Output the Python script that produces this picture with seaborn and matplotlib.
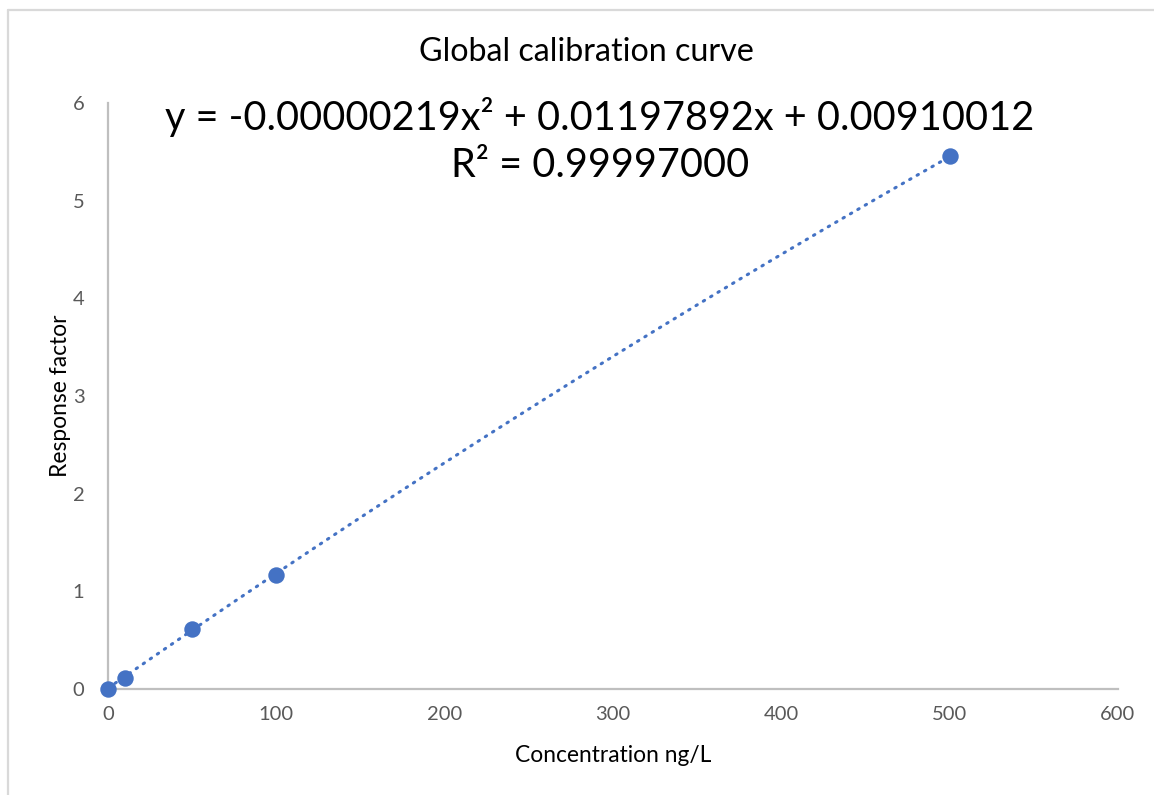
import numpy as np
import pandas as pd
import matplotlib
matplotlib.use("Agg")
import matplotlib.pyplot as plt
from matplotlib.lines import Line2D
import seaborn as sns

# Calibration standards
concentration = [0, 10, 50, 100, 500]
response = [0.0, 0.11, 0.61, 1.17, 5.46]

# Quadratic fit coefficients (a*x^2 + b*x + c) and goodness of fit
fit_coeffs = [-0.00000219, 0.01197892, 0.00910012]
r_squared = 0.99997000

x_ticks = [0, 100, 200, 300, 400, 500, 600]
y_ticks = [0, 1, 2, 3, 4, 5, 6]

BLUE = "#4472C4"
TICK_GREY = "#595959"
SPINE_GREY = "#BFBFBF"

sns.set_theme(style="white")
plt.rcParams["font.family"] = ["Lato", "DejaVu Sans"]

fig = plt.figure(figsize=(11.54, 7.95), dpi=100)
ax = fig.add_axes([0.0936, 0.1333, 0.9688 - 0.0936, 0.8704 - 0.1333])

df = pd.DataFrame({"conc": concentration, "resp": response})

# Trendline from the fitted polynomial over the standards' range
xs = np.linspace(min(concentration), max(concentration), 300)
ys = np.polyval(fit_coeffs, xs)
ax.plot(xs, ys, color=BLUE, lw=2.2, linestyle=(0, (0.5, 2.3)),
        dash_capstyle="round", zorder=2)

sns.scatterplot(data=df, x="conc", y="resp", ax=ax, color=BLUE, s=140,
                edgecolor=BLUE, linewidth=0, zorder=3, clip_on=False)

ax.set_xlim(0, 600)
ax.set_ylim(0, 6)
ax.set_xticks(x_ticks)
ax.set_yticks(y_ticks)
ax.tick_params(axis="both", length=0, labelsize=14.5, colors=TICK_GREY, pad=12)
ax.tick_params(axis="y", pad=17)

for side in ["top", "right"]:
    ax.spines[side].set_visible(False)
for side in ["left", "bottom"]:
    ax.spines[side].set_color(SPINE_GREY)
    ax.spines[side].set_linewidth(1.6)

ax.set_xlabel("Concentration ng/L", fontsize=16.4, color="black", labelpad=16)
ax.set_ylabel("Response factor", fontsize=16.4, color="black", labelpad=1)

fig.text(0.508, 0.934, "Global calibration curve", ha="center", va="center",
         fontsize=23.2, color="black")

a, b, c = fit_coeffs
eq = f"y = -{abs(a):.8f}x² + {b:.8f}x + {c:.8f}"
fig.text(0.52, 0.853, eq, ha="center", va="center", fontsize=28.5, color="black")
fig.text(0.52, 0.792, f"R² = {r_squared:.8f}", ha="center", va="center",
         fontsize=28.5, color="black")

# Chart-area border (top and left edges)
fig.add_artist(Line2D([8 / 1154, 1.0], [1 - 10 / 795, 1 - 10 / 795],
                      transform=fig.transFigure, color="#D9D9D9", lw=1.6))
fig.add_artist(Line2D([8 / 1154, 8 / 1154], [0.0, 1 - 10 / 795],
                      transform=fig.transFigure, color="#D9D9D9", lw=1.6))

fig.savefig("out.png", dpi=100, facecolor="white")
